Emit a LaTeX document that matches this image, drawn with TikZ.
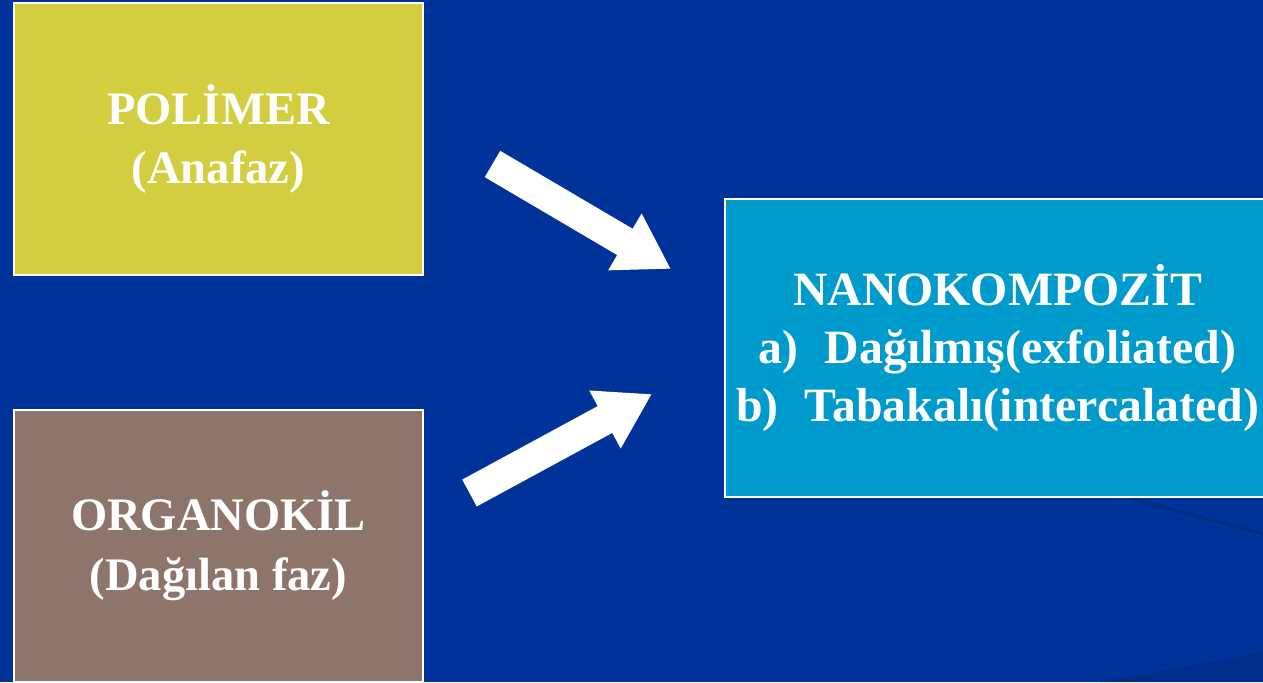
\documentclass[tikz,border=0pt]{standalone}
\usepackage{fontspec}
\setmainfont{Liberation Serif}
\usepackage{tikz}
\usetikzlibrary{arrows.meta}
\definecolor{bgblue}{RGB}{0,51,153}
\definecolor{dyellow}{RGB}{210,206,64}
\definecolor{dbrown}{RGB}{142,117,108}
\definecolor{dcyan}{RGB}{0,155,205}
\tikzset{
  phasebox/.style={draw=white, line width=0.9pt, minimum width=8.18cm, minimum height=5.44cm,
    inner sep=0pt, align=center, text=white, font=\bfseries\fontsize{26.5}{34}\selectfont},
  bigarrow/.style={white, line width=0.61cm, -{Triangle[width=1.24cm,length=1.07cm]}}
}
\begin{document}
\begin{tikzpicture}
\useasboundingbox (0,0) rectangle (25.26,13.64);
\clip (0,0) rectangle (25.26,13.64);
\fill[bgblue] (0,0) rectangle (25.26,13.64);
\draw[black!40!bgblue, opacity=0.35, line width=2pt] (22.6,3.68) -- (25.3,2.95);
\fill[black!20!bgblue, opacity=0.5] (22.0,0) -- (25.3,0.6) -- (25.3,0) -- cycle;
\node[phasebox, fill=dyellow] (polimer) at (4.37,10.86) {POLİMER\\(Anafaz)};
\node[phasebox, fill=dbrown] (organokil) at (4.37,2.72) {ORGANOKİL\\(Dağılan faz)};
\node[phasebox, fill=dcyan, minimum width=10.9cm, minimum height=5.96cm,
  font=\bfseries\fontsize{27.2}{33}\selectfont] (nano) at (19.95,6.68)
  {NANOKOMPOZİT\\a)\hspace{0.55em}Dağılmış(exfoliated)\\b)\hspace{0.55em}Tabakalı(intercalated)};
\coordinate (tail1) at (9.85,10.36);
\coordinate (tip1) at (13.42,8.26);
\coordinate (tail2) at (9.39,3.78);
\coordinate (tip2) at (13.04,5.76);
\draw[bigarrow] (tail1) -- (tip1);
\draw[bigarrow] (tail2) -- (tip2);
\end{tikzpicture}
\end{document}
